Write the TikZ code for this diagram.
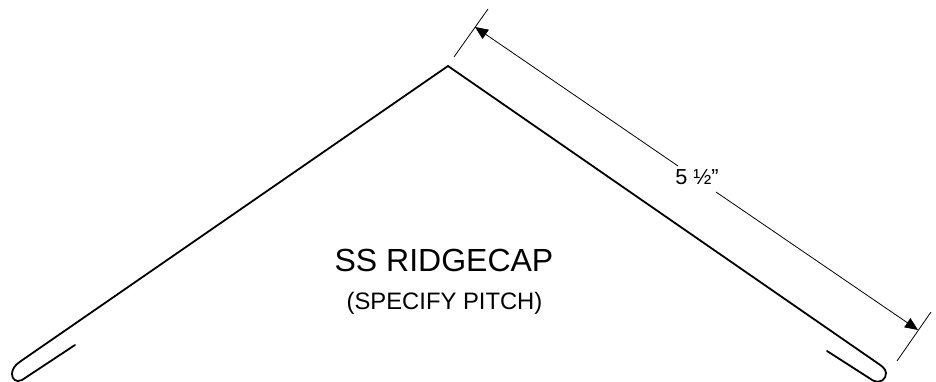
\documentclass[tikz,border=0pt]{standalone}
\usepackage{fontspec}
\setmainfont{Liberation Sans}
\usetikzlibrary{arrows.meta}
\tikzset{
  sheet/.style={line width=1.8pt,line join=miter,line cap=round},
  dimline/.style={line width=0.8pt},
  dimarrow/.style={line width=0.8pt,-{Triangle[length=13pt,width=11pt]}},
  lbl/.style={inner sep=0pt,text=black}
}
\begin{document}
\begin{tikzpicture}[x=1pt,y=-1pt]
\useasboundingbox (0,0) rectangle (936,382);
\coordinate (apex) at (448,66);
\coordinate (la) at (21,361);
\coordinate (lm) at (12,374);
\coordinate (lb) at (22,380);
\coordinate (lend) at (75,345);
\coordinate (ra) at (873,360);
\coordinate (rm) at (886,373);
\coordinate (rb) at (873,380.5);
\coordinate (rend) at (827,351);
\coordinate (t1a) at (454,57);
\coordinate (t1b) at (488,9);
\coordinate (t2a) at (897,361);
\coordinate (t2b) at (931,312);
\coordinate (tipa) at (475,27);
\coordinate (tipb) at (918,330);
\draw[sheet] (lend) -- (lb) .. controls (16,383) and (12,379) .. (lm) .. controls (12,369) and (15,365) .. (la) -- (apex) -- (ra) .. controls (880,365) and (886,368) .. (rm) .. controls (886,379) and (881,384) .. (rb) -- (rend);
\draw[dimline] (t1a) -- (t1b);
\draw[dimline] (t2a) -- (t2b);
\node[lbl,anchor=base,font=\fontsize{21.7pt}{26pt}\selectfont] (dim) at (697,185) {5 ½”};
\coordinate (da) at (678,166);
\coordinate (db) at (716,192);
\draw[dimarrow] (da) -- (tipa);
\draw[dimarrow] (db) -- (tipb);
\node[lbl,anchor=base,font=\fontsize{32pt}{38pt}\selectfont] (title) at (444,271) {SS RIDGECAP};
\node[lbl,anchor=base,font=\fontsize{23.8pt}{28pt}\selectfont] (sub) at (444.5,309) {(SPECIFY PITCH)};
\end{tikzpicture}
\end{document}
